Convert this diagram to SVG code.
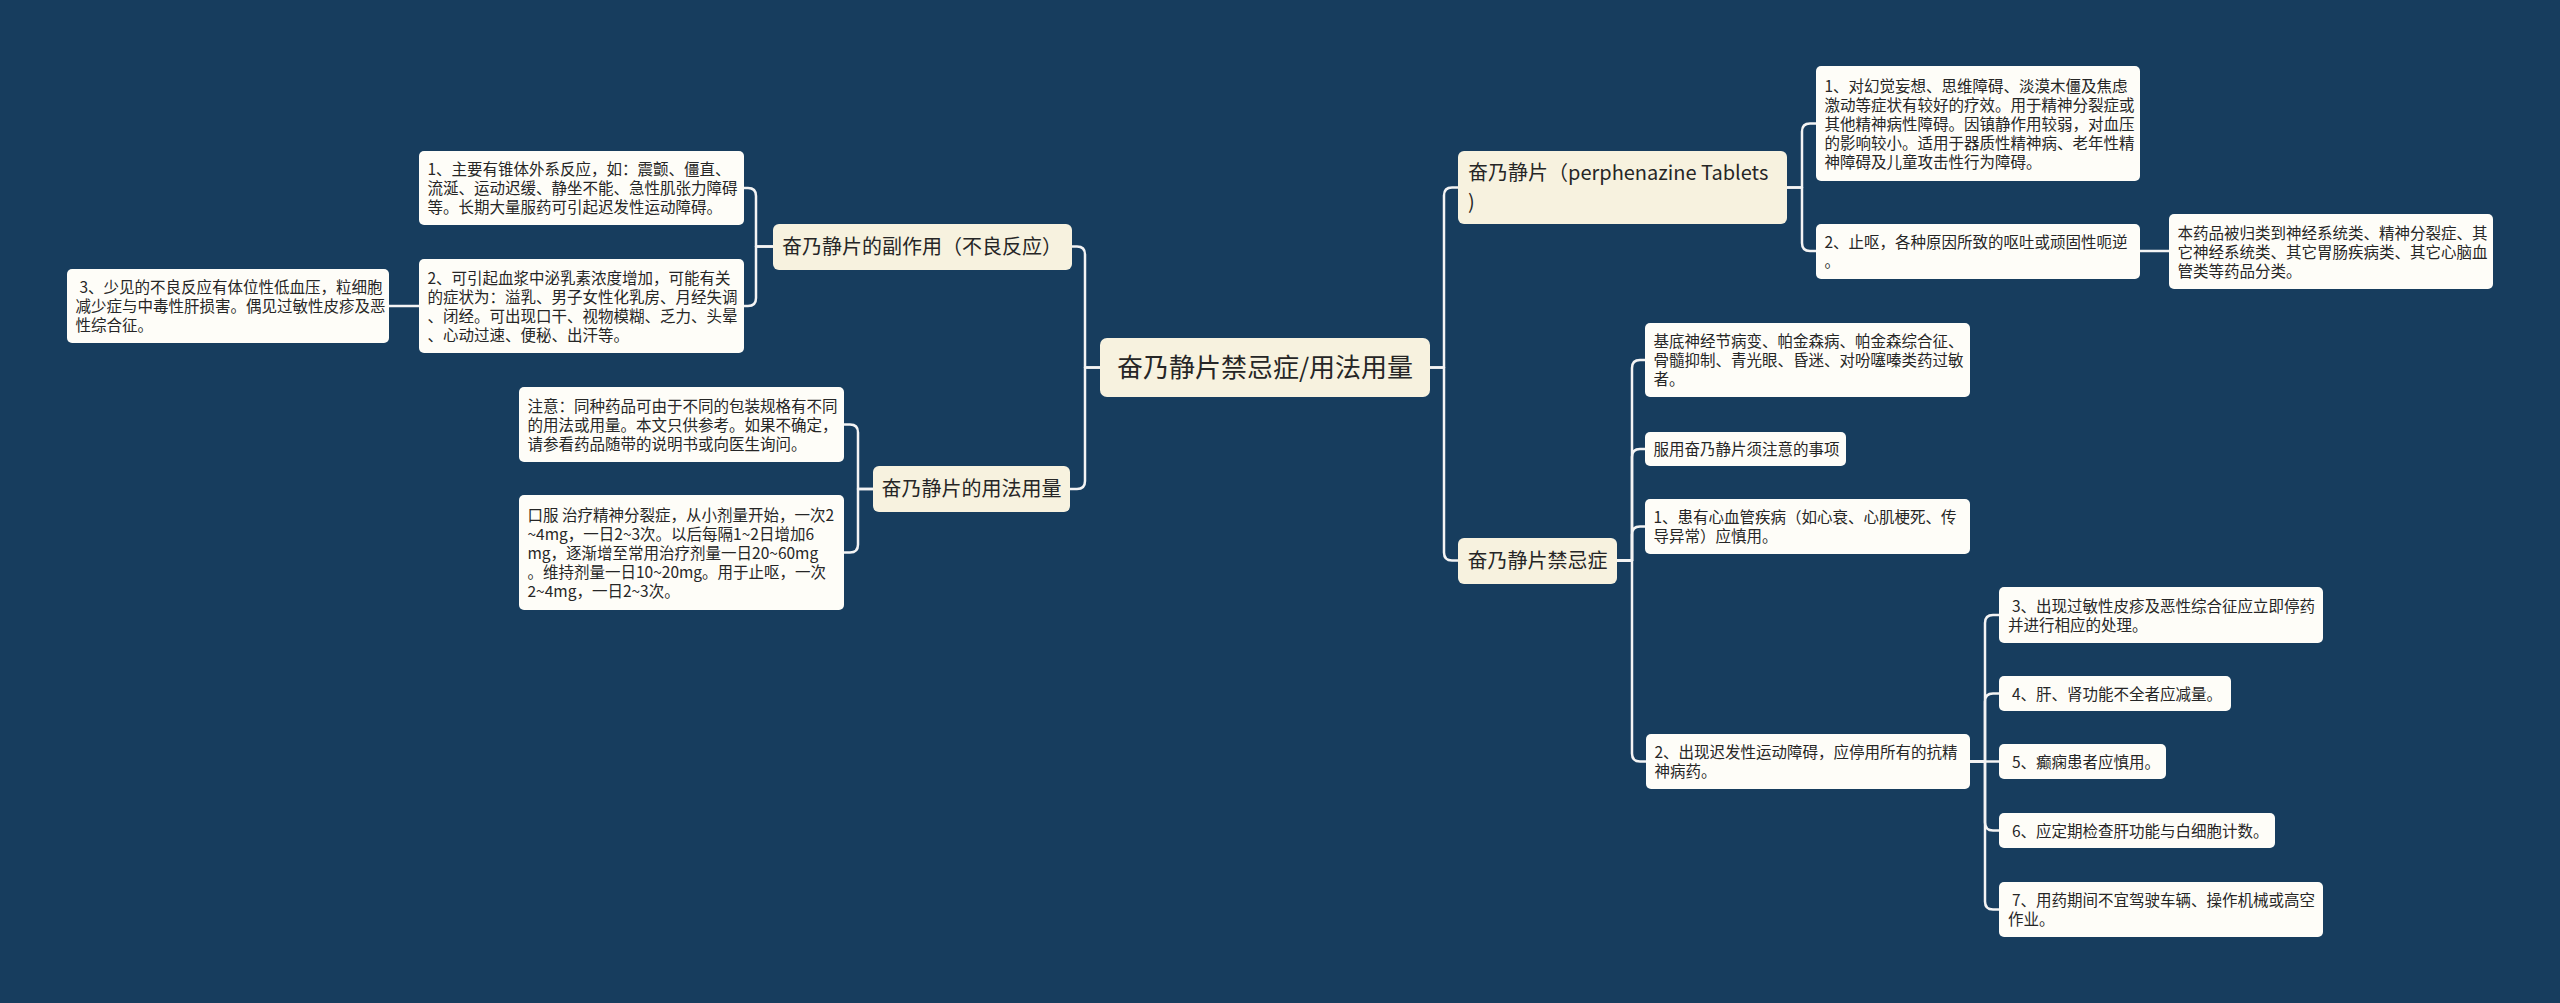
<svg xmlns="http://www.w3.org/2000/svg" width="2560" height="1003" viewBox="0 0 2560 1003">
<defs>
<style>
.bg{fill:#173d5e}
.main rect{fill:#f7f2df}
.lvl1 rect{fill:#f7f2df}
.leaf rect{fill:#fefdf8}
text{font-family:"Noto Sans CJK SC","Noto Sans",sans-serif;fill:#262626}
.main text{font-size:26px}
.lvl1 text{font-size:20px}
.leaf text{font-size:15.5px}
.conn path{fill:none;stroke:#f4f4f4;stroke-width:2.5;stroke-linecap:round;stroke-linejoin:round}
</style>
</defs>
<rect class="bg" x="0" y="0" width="2560" height="1003"/>

<g class="conn" id="connectors">
<!-- center to left -->
<path d="M1100,367.5 H1085 V254.5 Q1085,246.5 1077,246.5 H1072"/>
<path d="M1100,367.5 H1085 V481 Q1085,489 1077,489 H1070"/>
<!-- center to right -->
<path d="M1430,367.5 H1444 V195.5 Q1444,187.5 1452,187.5 H1458"/>
<path d="M1430,367.5 H1444 V552.5 Q1444,560.5 1452,560.5 H1458"/>
<!-- A children -->
<path d="M773,246.5 H756 V196 Q756,188 748,188 H744"/>
<path d="M773,246.5 H756 V298 Q756,306 748,306 H744"/>
<path d="M419,306 H389"/>
<!-- B children -->
<path d="M873,489 H858 V432.5 Q858,424.5 850,424.5 H844"/>
<path d="M873,489 H858 V544.5 Q858,552.5 850,552.5 H844"/>
<!-- C children -->
<path d="M1787,187.5 H1802 V131.5 Q1802,123.5 1810,123.5 H1816"/>
<path d="M1787,187.5 H1802 V243 Q1802,251 1810,251 H1816"/>
<path d="M2140,251 H2169"/>
<!-- D children -->
<path d="M1617,560.5 H1632 V368 Q1632,360 1640,360 H1645"/>
<path d="M1617,560.5 H1632 V457 Q1632,449 1640,449 H1645"/>
<path d="M1617,560.5 H1632 V534.5 Q1632,526.5 1640,526.5 H1645"/>
<path d="M1617,560.5 H1632 V753.5 Q1632,761.5 1640,761.5 H1646"/>
<!-- E children -->
<path d="M1970,761.5 H1985 V623 Q1985,615 1993,615 H1999"/>
<path d="M1970,761.5 H1985 V701.5 Q1985,693.5 1993,693.5 H1999"/>
<path d="M1970,761.5 H1999"/>
<path d="M1970,761.5 H1985 V822.5 Q1985,830.5 1993,830.5 H1999"/>
<path d="M1970,761.5 H1985 V901.5 Q1985,909.5 1993,909.5 H1999"/>
</g>

<g class="main" id="node-center">
<rect x="1100" y="338" width="330" height="59" rx="7"/>
<text x="1265" y="377" text-anchor="middle">奋乃静片禁忌症/用法用量</text>
</g>

<g class="lvl1" id="node-side-effects">
<rect x="773" y="224" width="299" height="46" rx="6"/>
<text x="782" y="254">奋乃静片的副作用（不良反应）</text>
</g>

<g class="lvl1" id="node-usage">
<rect x="873" y="466" width="197" height="46" rx="6"/>
<text x="971.5" y="496" text-anchor="middle">奋乃静片的用法用量</text>
</g>

<g class="lvl1" id="node-perphenazine">
<rect x="1458" y="151" width="329" height="73" rx="6"/>
<text x="1468" y="180">奋乃静片（perphenazine Tablets</text>
<text x="1468" y="209">)</text>
</g>

<g class="lvl1" id="node-contra">
<rect x="1458" y="538" width="159" height="46" rx="6"/>
<text x="1537.5" y="568" text-anchor="middle">奋乃静片禁忌症</text>
</g>

<g class="leaf" id="node-a1">
<rect x="419" y="151" width="325" height="74" rx="5"/>
<text x="427.5" y="175">1、主要有锥体外系反应，如：震颤、僵直、</text>
<text x="427.5" y="194">流涎、运动迟缓、静坐不能、急性肌张力障碍</text>
<text x="427.5" y="213">等。长期大量服药可引起迟发性运动障碍。</text>
</g>

<g class="leaf" id="node-a2">
<rect x="419" y="259" width="325" height="94" rx="5"/>
<text x="427.5" y="283.5">2、可引起血浆中泌乳素浓度增加，可能有关</text>
<text x="427.5" y="302.5">的症状为：溢乳、男子女性化乳房、月经失调</text>
<text x="427.5" y="321.5">、闭经。可出现口干、视物模糊、乏力、头晕</text>
<text x="427.5" y="340.5">、心动过速、便秘、出汗等。</text>
</g>

<g class="leaf" id="node-a3">
<rect x="67" y="269" width="322" height="74" rx="5"/>
<text x="79.5" y="293">3、少见的不良反应有体位性低血压，粒细胞</text>
<text x="75.5" y="312">减少症与中毒性肝损害。偶见过敏性皮疹及恶</text>
<text x="75.5" y="331">性综合征。</text>
</g>

<g class="leaf" id="node-b1">
<rect x="519" y="387" width="325" height="75" rx="5"/>
<text x="527.5" y="411.5">注意：同种药品可由于不同的包装规格有不同</text>
<text x="527.5" y="430.5">的用法或用量。本文只供参考。如果不确定，</text>
<text x="527.5" y="449.5">请参看药品随带的说明书或向医生询问。</text>
</g>

<g class="leaf" id="node-b2">
<rect x="519" y="495" width="325" height="115" rx="5"/>
<text x="527.5" y="520.5">口服 治疗精神分裂症，从小剂量开始，一次2</text>
<text x="527.5" y="539.5">~4mg，一日2~3次。以后每隔1~2日增加6</text>
<text x="527.5" y="558.5">mg，逐渐增至常用治疗剂量一日20~60mg</text>
<text x="527.5" y="577.5">。维持剂量一日10~20mg。用于止呕，一次</text>
<text x="527.5" y="596.5">2~4mg，一日2~3次。</text>
</g>

<g class="leaf" id="node-c1">
<rect x="1816" y="66" width="324" height="115" rx="5"/>
<text x="1824.5" y="91.5">1、对幻觉妄想、思维障碍、淡漠木僵及焦虑</text>
<text x="1824.5" y="110.5">激动等症状有较好的疗效。用于精神分裂症或</text>
<text x="1824.5" y="129.5">其他精神病性障碍。因镇静作用较弱，对血压</text>
<text x="1824.5" y="148.5">的影响较小。适用于器质性精神病、老年性精</text>
<text x="1824.5" y="167.5">神障碍及儿童攻击性行为障碍。</text>
</g>

<g class="leaf" id="node-c2">
<rect x="1816" y="224" width="324" height="55" rx="5"/>
<text x="1824.5" y="248">2、止呕，各种原因所致的呕吐或顽固性呃逆</text>
<text x="1824.5" y="267">。</text>
</g>

<g class="leaf" id="node-c3">
<rect x="2169" y="214" width="324" height="75" rx="5"/>
<text x="2177.5" y="238.5">本药品被归类到神经系统类、精神分裂症、其</text>
<text x="2177.5" y="257.5">它神经系统类、其它胃肠疾病类、其它心脑血</text>
<text x="2177.5" y="276.5">管类等药品分类。</text>
</g>

<g class="leaf" id="node-d1">
<rect x="1645" y="323" width="325" height="74" rx="5"/>
<text x="1653.5" y="347">基底神经节病变、帕金森病、帕金森综合征、</text>
<text x="1653.5" y="366">骨髓抑制、青光眼、昏迷、对吩噻嗪类药过敏</text>
<text x="1653.5" y="385">者。</text>
</g>

<g class="leaf" id="node-d2">
<rect x="1645" y="432" width="201" height="34" rx="5"/>
<text x="1653.5" y="455">服用奋乃静片须注意的事项</text>
</g>

<g class="leaf" id="node-d3">
<rect x="1645" y="499" width="325" height="55" rx="5"/>
<text x="1653.5" y="523">1、患有心血管疾病（如心衰、心肌梗死、传</text>
<text x="1653.5" y="542">导异常）应慎用。</text>
</g>

<g class="leaf" id="node-d4">
<rect x="1646" y="734" width="324" height="55" rx="5"/>
<text x="1654.5" y="758">2、出现迟发性运动障碍，应停用所有的抗精</text>
<text x="1654.5" y="777">神病药。</text>
</g>

<g class="leaf" id="node-e1">
<rect x="1999" y="587" width="324" height="56" rx="5"/>
<text x="2012" y="611.5">3、出现过敏性皮疹及恶性综合征应立即停药</text>
<text x="2008" y="630.5">并进行相应的处理。</text>
</g>

<g class="leaf" id="node-e2">
<rect x="1999" y="676" width="232" height="35" rx="5"/>
<text x="2012" y="699.5">4、肝、肾功能不全者应减量。</text>
</g>

<g class="leaf" id="node-e3">
<rect x="1999" y="744" width="167" height="35" rx="5"/>
<text x="2012" y="767.5">5、癫痫患者应慎用。</text>
</g>

<g class="leaf" id="node-e4">
<rect x="1999" y="813" width="276" height="35" rx="5"/>
<text x="2012" y="836.5">6、应定期检查肝功能与白细胞计数。</text>
</g>

<g class="leaf" id="node-e5">
<rect x="1999" y="882" width="324" height="55" rx="5"/>
<text x="2012" y="906">7、用药期间不宜驾驶车辆、操作机械或高空</text>
<text x="2008" y="925">作业。</text>
</g>
</svg>
